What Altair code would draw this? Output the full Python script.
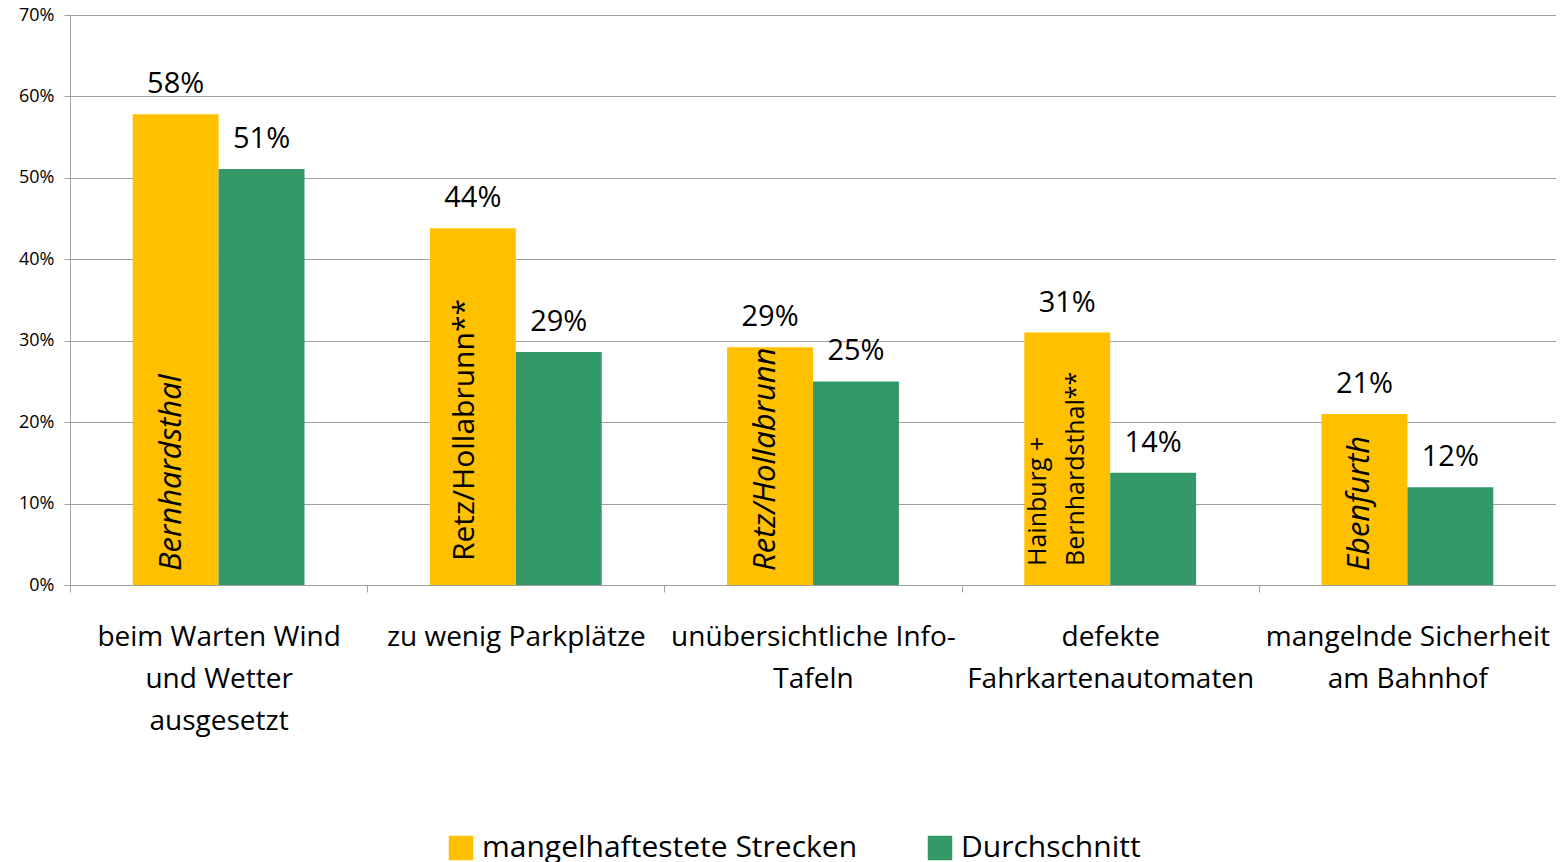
import altair as alt
import pandas as pd

categories = [
    "beim Warten Wind und Wetter ausgesetzt",
    "zu wenig Parkplätze",
    "unübersichtliche Info-Tafeln",
    "defekte Fahrkartenautomaten",
    "mangelnde Sicherheit am Bahnhof",
]
category_labels = [
    "beim Warten Wind|und Wetter|ausgesetzt",
    "zu wenig Parkplätze",
    "unübersichtliche Info-|Tafeln",
    "defekte|Fahrkartenautomaten",
    "mangelnde Sicherheit|am Bahnhof",
]
series = ["mangelhaftestete Strecken", "Durchschnitt"]
mangel = [57.8, 43.8, 29.2, 31.0, 21.0]
durchschnitt = [51.1, 28.6, 25.0, 13.8, 12.0]
inside_labels = ["Bernhardsthal", "Retz/Hollabrunn**", "Retz/Hollabrunn", "Hainburg +|Bernhardsthal**", "Ebenfurth"]
inside_italic = [True, False, True, False, True]
colors = ["#FFC000", "#339966"]

FONT = "Open Sans"
label_map = dict(zip(categories, category_labels))

rows = []
for i, c in enumerate(categories):
    rows.append({"cat": c, "series": series[0], "value": mangel[i]})
    rows.append({"cat": c, "series": series[1], "value": durchschnitt[i]})
df = pd.DataFrame(rows)
df["label"] = df["value"].round().astype(int).astype(str) + "%"

inside = pd.DataFrame({
    "cat": categories,
    "series": series[0],
    "text": inside_labels,
    "italic": inside_italic,
    "two": ["|" in t for t in inside_labels],
    "base": 0.0,
})

label_obj = "{" + ",".join(f"'{k}': '{v}'" for k, v in label_map.items()) + "}"

x = alt.X(
    "cat:N",
    sort=categories,
    scale=alt.Scale(paddingInner=0, paddingOuter=0),
    axis=alt.Axis(
        title=None,
        labelExpr=f"isValid({label_obj}[datum.label]) ? split({label_obj}[datum.label], '|') : ''",
        labelAngle=0,
        labelFont=FONT,
        labelFontSize=28,
        labelColor="#000000",
        labelLineHeight=42,
        labelPadding=31,
        labelLimit=500,
        labelOverlap=False,
        tickBand="extent",
        tickColor="#a0a0a0",
        tickSize=7,
        domainColor="#a0a0a0",
        grid=False,
    ),
)
xoff = alt.XOffset("series:N", sort=series, scale=alt.Scale(domain=series, paddingInner=0, paddingOuter=0.73))

y = alt.Y(
    "value:Q",
    scale=alt.Scale(domain=[0, 70], nice=False),
    axis=alt.Axis(
        title=None,
        values=[0, 10, 20, 30, 40, 50, 60, 70],
        labelExpr="datum.value + '%'",
        labelFont=FONT,
        labelFontSize=18,
        labelColor="#000000",
        labelPadding=10,
        tickColor="#a0a0a0",
        tickSize=6,
        domainColor="#a0a0a0",
        gridColor="#a0a0a0",
        gridWidth=1,
    ),
)

color = alt.Color(
    "series:N",
    sort=series,
    scale=alt.Scale(domain=series, range=colors),
    legend=alt.Legend(
        title=None,
        orient="none",
        legendX=376,
        legendY=818,
        direction="horizontal",
        symbolType="square",
        symbolSize=600,
        symbolStrokeWidth=0,
        labelFont=FONT,
        labelFontSize=30,
        labelColor="#000000",
        labelLimit=600,
        columnPadding=67,
        labelOffset=6,
    ),
)

base = alt.Chart(df)
bars = base.mark_bar(stroke=None).encode(x=x, xOffset=xoff, y=y, color=color)
values = base.mark_text(baseline="bottom", dy=-15, font=FONT, fontSize=29, color="#000000").encode(
    x=x, xOffset=xoff, y=y, text="label:N"
)

ib = alt.Chart(inside)
inside_it = ib.transform_filter("datum.italic").mark_text(
    angle=270, align="left", baseline="middle", font=FONT, fontSize=31, fontStyle="italic", color="#000000", dx=14, dy=-4
).encode(x=x, xOffset=xoff, y=alt.Y("base:Q"), text="text:N")
inside_norm = ib.transform_filter("!datum.italic && !datum.two").mark_text(
    angle=270, align="left", baseline="middle", font=FONT, fontSize=30, color="#000000", dx=24, dy=-8
).encode(x=x, xOffset=xoff, y=alt.Y("base:Q"), text="text:N")
inside_two = ib.transform_filter("datum.two").transform_calculate(
    lines="split(datum.text, '|')"
).mark_text(
    angle=270, align="left", baseline="middle", font=FONT, fontSize=25, color="#000000", dx=19, dy=-29, lineHeight=38
).encode(x=x, xOffset=xoff, y=alt.Y("base:Q"), text="lines:N")

chart = alt.layer(bars, values, inside_it, inside_norm, inside_two).properties(
    width=1486,
    height=570,
    autosize=alt.AutoSizeParams(type="none"),
    padding={"left": 62, "top": 7, "right": 0, "bottom": 277},
).configure_view(stroke=None).configure(font=FONT)

chart.save("out.html", embed_options={"renderer": "svg", "actions": False})
